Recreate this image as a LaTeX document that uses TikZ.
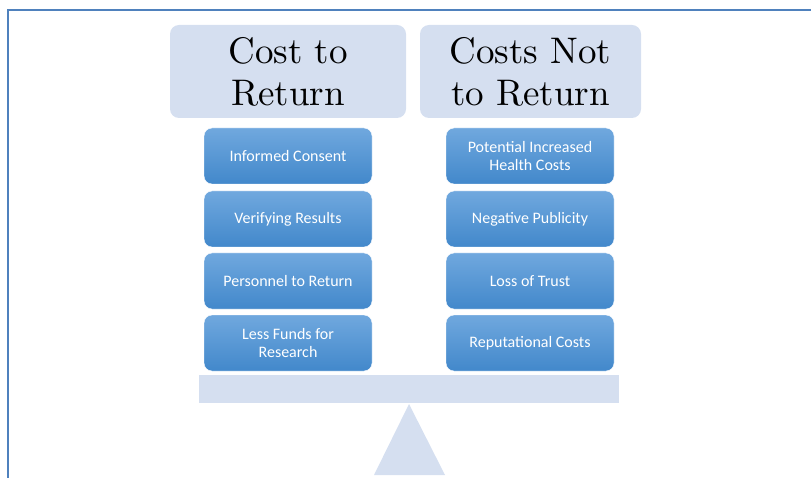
\documentclass[tikz,border=0pt]{standalone}
\usepackage{fontspec}
\newfontfamily\boxfont{Carlito}
\newfontfamily\headfont{lmroman10-regular.otf}

\definecolor{headfill}{RGB}{213,223,240}
\definecolor{boxtop}{RGB}{112,168,222}
\definecolor{boxbot}{RGB}{66,136,203}
\definecolor{framecol}{RGB}{79,129,189}

\begin{document}
\begin{tikzpicture}[x=1pt, y=-1pt,
    head/.style={fill=headfill, rounded corners=9pt, minimum height=93pt,
      align=center, font=\headfont\fontsize{37}{42}\selectfont},
    cost/.style={top color=boxtop, bottom color=boxbot, draw=white, thin,
      rounded corners=8pt, minimum width=168pt, minimum height=56pt,
      text=white, align=center, font=\boxfont\fontsize{16}{18}\selectfont}]
  \useasboundingbox (0,0) rectangle (811,478);
  \draw[framecol, line width=1.5pt] (8,478) -- (8,10) -- (811,10);

  % column headings
  \node[head, minimum width=236pt] (hleft) at (288,71.5) {Cost to\\Return};
  \node[head, minimum width=221pt] (hright) at (530.5,71.5) {Costs Not\\to Return};

  % left pan
  \node[cost] (consent) at (288,156) {Informed Consent};
  \node[cost] (verify) at (288,219) {Verifying Results};
  \node[cost] (staff) at (288,281) {Personnel to Return};
  \node[cost] (funds) at (288,343) {Less Funds for\\Research};

  % right pan
  \node[cost] (health) at (530,156) {Potential Increased\\Health Costs};
  \node[cost] (press) at (530,219) {Negative Publicity};
  \node[cost] (trust) at (530,281) {Loss of Trust};
  \node[cost] (repute) at (530,343) {Reputational Costs};

  % beam and pivot
  \fill[headfill] (199,375) rectangle (619,403);
  \fill[headfill] (409,404) -- (445,475) -- (374,475) -- cycle;
\end{tikzpicture}
\end{document}
